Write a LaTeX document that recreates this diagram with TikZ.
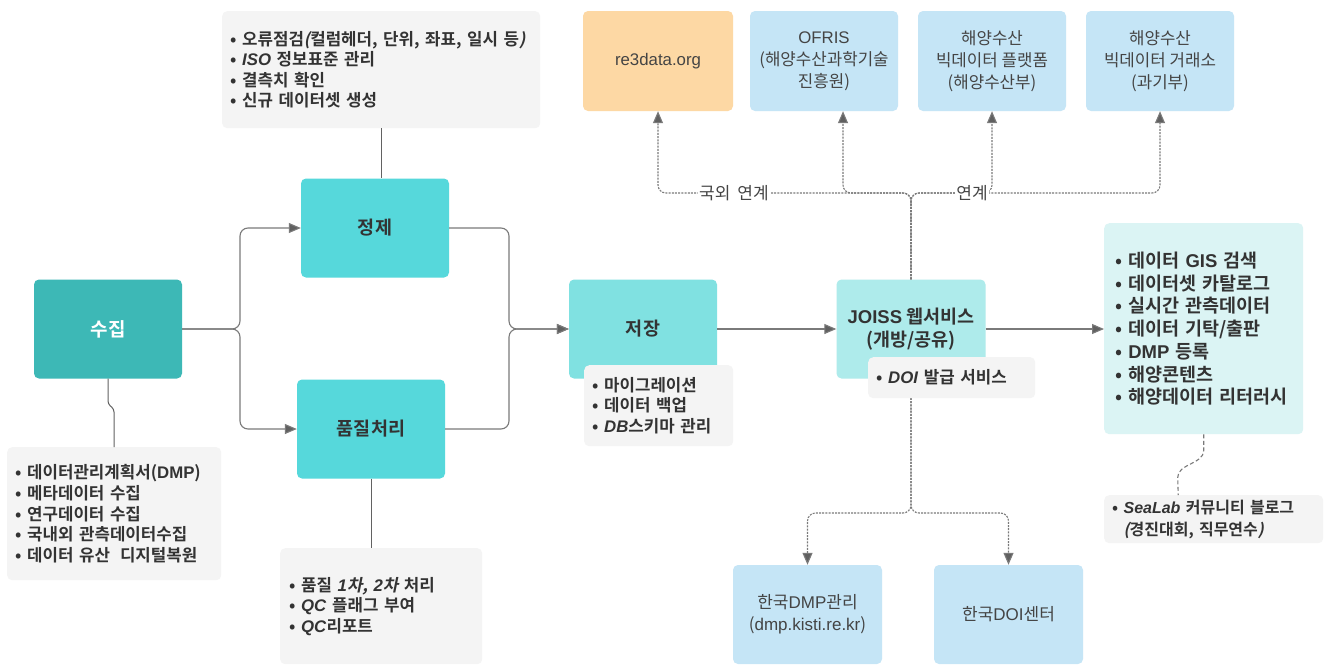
\documentclass[tikz,border=0pt]{standalone}
\usepackage{fontspec}
\setmainfont{Noto Sans CJK KR}[BoldFont={* Bold}, ItalicFont={*}, ItalicFeatures={FakeSlant=0.2}, BoldItalicFont={* Bold}, BoldItalicFeatures={FakeSlant=0.2}]
\newfontfamily\lat{Liberation Sans}
\usetikzlibrary{arrows.meta}
\definecolor{cA}{HTML}{3DB8B6}
\definecolor{cB}{HTML}{56D8DB}
\definecolor{cC}{HTML}{80E1E1}
\definecolor{cD}{HTML}{AEEBEB}
\definecolor{cE}{HTML}{DBF4F4}
\definecolor{cBlue}{HTML}{C5E5F6}
\definecolor{cOrange}{HTML}{FDD8A4}
\definecolor{noteBg}{HTML}{F4F4F4}
\definecolor{txt}{HTML}{333333}
\definecolor{txtR}{HTML}{444444}
\definecolor{lineC}{HTML}{7A7A7A}
\definecolor{tipC}{HTML}{606060}
\tikzset{
  mainbox/.style={rectangle, rounded corners=5pt, minimum width=148pt, minimum height=99pt, inner sep=0pt, align=center, text=txt, font=\bfseries\fontsize{18.5}{23}\selectfont},
  extbox/.style={rectangle, rounded corners=5pt, minimum width=148pt, minimum height=100pt, inner sep=0pt, align=center, text=txtR, font=\fontsize{16.8}{22}\selectfont},
  notebox/.style={rectangle, rounded corners=5pt, fill=noteBg, align=left, inner xsep=8pt, inner ysep=0pt, anchor=north west, text=txt, font=\bfseries\fontsize{16.8}{20.6}\selectfont},
  conn/.style={draw=lineC, line width=1.1pt, rounded corners=8pt, -{Triangle[length=12pt,width=10pt,fill=tipC]}},
  plainline/.style={draw=lineC!80!black, line width=1pt},
  dconn/.style={draw=lineC, line width=1.1pt, rounded corners=8pt, dash pattern=on 2pt off 1.2pt, -{Triangle[length=12pt,width=10pt,fill=tipC]}},
  dline/.style={draw=lineC, line width=1.1pt, dash pattern=on 4pt off 2.5pt},
  lbl/.style={fill=white, inner sep=1.5pt, text=txtR, font=\fontsize{17}{20}\selectfont}
}
\begin{document}
\begin{tikzpicture}[x=1pt,y=-1pt]
\useasboundingbox (0,0) rectangle (1329,664);
\fill[white] (0,0) rectangle (1329,664);

% main process boxes
\node[mainbox, fill=cA, text=white, font=\bfseries\fontsize{19}{22}\selectfont] (suzip) at (108,329) {수집};
\node[mainbox, fill=cB] (jeongje) at (375,228) {정제};
\node[mainbox, fill=cB] (pumjil) at (371,429) {품질처리};
\node[mainbox, fill=cC] (jeojang) at (643,329) {저장};
\node[mainbox, fill=cD, minimum width=149pt] (joiss) at (911,329) {{\lat JOISS} 웹서비스\\(개방/공유)};
\node[notebox, fill=cE, text width=177pt, inner xsep=11pt, minimum height=211pt, font=\bfseries\fontsize{18.5}{22.7}\selectfont] (svc) at (1104,223) {• 데이터 {\lat GIS} 검색\\• 데이터셋 카탈로그\\• 실시간 관측데이터\\• 데이터 기탁/출판\\• {\lat DMP} 등록\\• 해양콘텐츠\\• 해양데이터 리터러시};

% external boxes
\node[extbox, fill=cOrange, minimum width=150pt] (re3) at (658,61) {{\lat re3data.org}};
\node[extbox, fill=cBlue] (ofris) at (824,61) {{\lat OFRIS}\\(해양수산과학기술\\진흥원)};
\node[extbox, fill=cBlue] (plat) at (992,61) {해양수산\\빅데이터 플랫폼\\(해양수산부)};
\node[extbox, fill=cBlue] (exch) at (1160,61) {해양수산\\빅데이터 거래소\\(과기부)};
\node[extbox, fill=cBlue, minimum width=149pt, minimum height=99pt, font=\fontsize{17}{22}\selectfont] (dmp) at (807.5,614.5) {한국{\lat DMP}관리\\({\lat dmp.kisti.re.kr})};
\node[extbox, fill=cBlue, minimum width=149pt, minimum height=99pt, font=\fontsize{17}{22}\selectfont] (doi) at (1008.5,614.5) {한국{\lat DOI}센터};

% notes (not overlapping)
\node[notebox, text width=302pt, minimum height=117pt] (n1) at (222,11) {• 오류점검\textit{(}컬럼헤더, 단위, 좌표, 일시 등\textit{)}\\• \textit{\lat ISO} 정보표준 관리\\• 결측치 확인\\• 신규 데이터셋 생성};
\node[notebox, text width=198pt, minimum height=133pt] (n2) at (7,447) {• 데이터관리계획서({\lat DMP})\\• 메타데이터 수집\\• 연구데이터 수집\\• 국내외 관측데이터수집\\• 데이터 유산\hspace{10pt}디지털복원};
\node[notebox, text width=184pt, inner xsep=9pt, minimum height=116pt] (n3) at (280,548) {• 품질 \textit{{\lat 1}차, {\lat 2}차} 처리\\• \textit{\lat QC} 플래그 부여\\• \textit{\lat QC}리포트};
\node[notebox, text width=203pt, minimum height=48pt, font=\bfseries\fontsize{16}{22}\selectfont] (n6) at (1104,495) {• \textit{\lat SeaLab} 커뮤니티 블로그\\\phantom{• }\textit{(}경진대회, 직무연수\textit{)}};

% solid connectors
\draw[conn] (suzip.east) -- (240,329) |- (jeongje.west);
\draw[conn] (suzip.east) -- (240,329) |- (pumjil.west);
\draw[conn] (jeongje.east) -- (509,228) -- (509,329) -- (jeojang.west);
\draw[conn] (pumjil.east) -- (509,429) -- (509,329) -- (jeojang.west);
\draw[conn] (jeojang.east) -- (joiss.west);
\draw[conn] (joiss.east) -- (joiss.east -| svc.west);

\draw[plainline] (n1.south) -- (n1.south |- jeongje.north);
\draw[plainline, rounded corners=3pt] (suzip.south) -- (108,404) -- (114,409) -- (n2.north);
\draw[plainline] (pumjil.south) -- (pumjil.south |- n3.north);
\draw[dline] (svc.south) -- ++(0,16) .. controls +(0,14) and +(0,-14) .. ++(-26,27) -- ([xshift=-35.5pt]n6.north);

% dotted connectors
\draw[dconn] (joiss.north) -- (911,193) -| (re3.south);
\draw[dconn] (joiss.north) -- (911,193) -| ([xshift=19pt]ofris.south);
\draw[dconn] (joiss.north) -- (911,193) -| (plat.south);
\draw[dconn] (joiss.north) -- (911,193) -| (exch.south);
\draw[dconn] (joiss.south) -- (911,513) -| (dmp.north);
\draw[dconn] (joiss.south) -- (911,513) -| (doi.north);
\node[lbl] (lblA) at (734,193) {국외\hspace{7pt}연계};
\node[lbl] (lblB) at (972,193) {연계};

% overlapping notes
\node[notebox, text width=133pt, minimum height=81pt] (n4) at (584,365) {• 마이그레이션\\• 데이터 백업\\• \textit{\lat DB}스키마 관리};
\node[notebox, text width=151pt, inner xsep=8pt, minimum height=41pt] (n5) at (868,357) {• \textit{\lat DOI} 발급 서비스};
\end{tikzpicture}
\end{document}
